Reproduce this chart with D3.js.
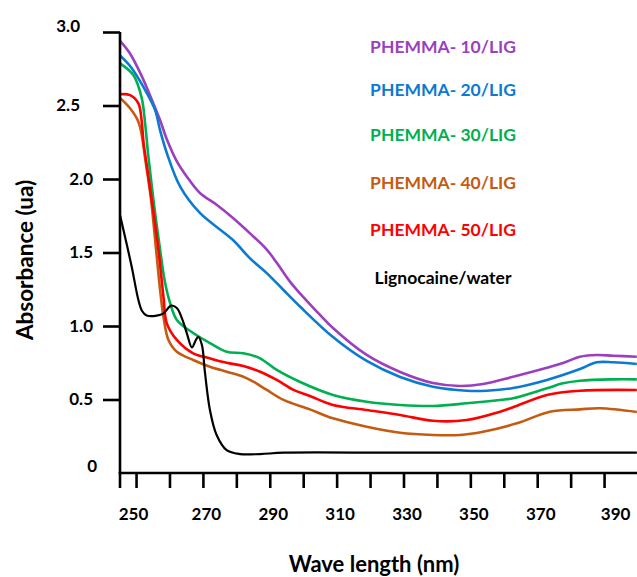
<!DOCTYPE html>
<html>
<head>
<meta charset="utf-8">
<script src="https://cdn.jsdelivr.net/npm/d3@7"></script>
<style>
  body { margin: 0; background: #fff; }
  text { font-family: Lato, "Open Sans", sans-serif; font-weight: 700; }
</style>
</head>
<body>
<svg id="chart" width="637" height="577"></svg>
<script>
// UV-Vis absorbance spectra: wavelength (nm) vs absorbance (ua)

const seriesNames = ["PHEMMA- 10/LIG", "PHEMMA- 20/LIG", "PHEMMA- 30/LIG",
                     "PHEMMA- 40/LIG", "PHEMMA- 50/LIG", "Lignocaine/water"];

const wl10  = [245.2, 248.0, 251.7, 254.7, 257.2, 259.2, 262.2, 265.2, 269.1, 274.1, 279.0, 284.1, 289.1, 292.1, 296.1, 299.1, 304.0, 308.9, 319.0, 329.0, 338.8, 346.9, 353.8, 362.8, 372.9, 377.7, 382.8, 387.8, 392.7, 399.8];
const abs10 = [2.94, 2.86, 2.70, 2.54, 2.40, 2.27, 2.12, 2.016, 1.905, 1.825, 1.735, 1.63, 1.52, 1.43, 1.30, 1.22, 1.10, 0.986, 0.803, 0.687, 0.612, 0.592, 0.605, 0.655, 0.716, 0.748, 0.791, 0.803, 0.798, 0.791];

const wl20  = [245.2, 248.5, 252.2, 255.7, 257.2, 259.2, 263.2, 269.1, 279.0, 284.1, 289.1, 294.1, 299.1, 308.9, 319.0, 329.0, 338.8, 348.9, 354.9, 362.8, 372.9, 382.8, 387.8, 392.7, 399.8];
const abs20 = [2.84, 2.76, 2.626, 2.469, 2.33, 2.177, 1.948, 1.769, 1.585, 1.46, 1.36, 1.245, 1.131, 0.925, 0.762, 0.653, 0.587, 0.56, 0.56, 0.578, 0.633, 0.707, 0.753, 0.753, 0.741];

const wl30  = [245.2, 249.2, 251.7, 252.7, 253.7, 255.2, 257.2, 258.7, 260.2, 262.2, 267.1, 272.1, 277.1, 282.1, 287.1, 292.1, 299.1, 308.9, 319.0, 329.0, 338.8, 348.9, 358.9, 362.8, 372.9, 377.7, 382.8, 392.7, 399.8];
const abs30 = [2.787, 2.707, 2.55, 2.38, 2.15, 1.857, 1.517, 1.293, 1.156, 1.041, 0.952, 0.884, 0.825, 0.814, 0.78, 0.701, 0.619, 0.531, 0.485, 0.463, 0.456, 0.474, 0.497, 0.508, 0.576, 0.61, 0.628, 0.637, 0.637];

const wl40  = [245.2, 248.2, 250.7, 251.7, 252.7, 254.5, 256.0, 257.2, 258.2, 259.7, 262.2, 267.1, 272.1, 277.1, 282.1, 285.1, 289.1, 294.1, 302.0, 308.9, 319.0, 329.0, 338.8, 346.9, 353.8, 363.9, 373.8, 382.8, 388.8, 399.8];
const abs40 = [2.551, 2.481, 2.39, 2.30, 2.143, 1.857, 1.517, 1.245, 1.063, 0.905, 0.825, 0.769, 0.723, 0.689, 0.655, 0.621, 0.565, 0.497, 0.433, 0.372, 0.315, 0.274, 0.259, 0.259, 0.281, 0.338, 0.417, 0.433, 0.44, 0.415];

const wl50  = [245.2, 248.2, 250.7, 251.7, 252.2, 253.2, 254.7, 256.7, 258.2, 259.2, 262.2, 267.1, 272.1, 277.1, 282.1, 287.1, 292.1, 297.1, 302.0, 308.9, 319.0, 329.0, 338.8, 348.9, 358.9, 362.8, 372.9, 382.8, 399.8];
const abs50 = [2.576, 2.571, 2.515, 2.39, 2.254, 2.095, 1.857, 1.517, 1.199, 1.018, 0.905, 0.814, 0.78, 0.75, 0.728, 0.689, 0.633, 0.565, 0.524, 0.463, 0.429, 0.395, 0.355, 0.36, 0.417, 0.447, 0.531, 0.56, 0.565];

const wlLig  = [245.2, 246.7, 248.7, 250.7, 251.8, 253.2, 256.2, 258.2, 260.5, 262.2, 263.7, 265.2, 266.7, 267.9, 268.6, 269.7, 270.6, 272.1, 274.1, 277.1, 281.1, 287.1, 294.1, 329.0, 399.8];
const absLig = [1.755, 1.607, 1.403, 1.177, 1.102, 1.071, 1.071, 1.086, 1.139, 1.122, 1.054, 0.95, 0.854, 0.905, 0.927, 0.871, 0.687, 0.429, 0.259, 0.156, 0.129, 0.129, 0.138, 0.138, 0.138];

const yTicks = [0, 0.5, 1.0, 1.5, 2.0, 2.5, 3.0];
const xTicks = [250, 260, 270, 280, 290, 300, 310, 320, 330, 340, 350, 360, 370, 380, 390];
const xTickLabels = [250, 270, 290, 310, 330, 350, 370, 390];

const seriesColors = ["#9b3fbf", "#0a7bd0", "#00b050", "#c55a11", "#ff0000", "#000000"];

const series = [
  { name: seriesNames[0], wl: wl10,  abs: abs10 },
  { name: seriesNames[1], wl: wl20,  abs: abs20 },
  { name: seriesNames[2], wl: wl30,  abs: abs30 },
  { name: seriesNames[3], wl: wl40,  abs: abs40 },
  { name: seriesNames[4], wl: wl50,  abs: abs50 },
  { name: seriesNames[5], wl: wlLig, abs: absLig }
].map((s, i) => ({ ...s, color: seriesColors[i],
                   points: s.wl.map((w, j) => [w, s.abs[j]]) }));

const svg = d3.select("#chart");
const W = 637, H = 577;
const left = 120, bottom = 473;

const x = d3.scaleLinear().domain([245.2, 400]).range([left, 637.5]);
const y = d3.scaleLinear().domain([0, 3]).range([bottom, 32]);

// plot area clip
svg.append("defs").append("clipPath").attr("id", "plot")
  .append("rect").attr("x", left).attr("y", 0).attr("width", W - left).attr("height", bottom);

// curves
const line = d3.line()
  .x(d => x(d[0])).y(d => y(d[1]))
  .curve(d3.curveCatmullRom.alpha(0.5));

svg.append("g").attr("clip-path", "url(#plot)")
  .selectAll("path").data(series).join("path")
  .attr("d", d => line(d.points))
  .attr("fill", "none")
  .attr("stroke", d => d.color)
  .attr("stroke-width", (d, i) => i === 5 ? 2.2 : 2.6)
  .attr("stroke-linejoin", "round");

// y axis
const yAxis = d3.axisLeft(y)
  .tickValues(yTicks)
  .tickSize(17)
  .tickPadding(10)
  .tickFormat(d => d === 0 ? "0" : d3.format(".1f")(d));

const gy = svg.append("g").attr("transform", `translate(${left},0)`).call(yAxis);
gy.select(".domain").remove();
gy.selectAll(".tick line").attr("stroke", "#000").attr("stroke-width", 2.6)
  .attr("display", d => d === 0 ? "none" : null);
gy.selectAll(".tick text")
  .attr("fill", "#000").style("font-size", "17px")
  .attr("dx", d => d >= 2.5 ? -13 : (d === 0 ? 4 : 0))
  .attr("dy", d => d === 3 ? "-0.05em" : (d === 0 ? "-0.1em" : "0.32em"));

// x axis
const xAxis = d3.axisBottom(x)
  .tickValues(xTicks)
  .tickSize(15)
  .tickPadding(20)
  .tickFormat(d => xTickLabels.includes(d) ? String(d) : "");

const gx = svg.append("g").attr("transform", `translate(0,${bottom})`).call(xAxis);
gx.select(".domain").remove();
gx.selectAll(".tick line").attr("stroke", "#000").attr("stroke-width", 2.6);
gx.selectAll(".tick text")
  .attr("fill", "#000").style("font-size", "17px")
  .attr("dx", d => d === 250 ? -3 : (d === 390 ? 11 : 3));

// axis lines
svg.append("line").attr("x1", left).attr("x2", left)
  .attr("y1", y(3)).attr("y2", bottom + 15)
  .attr("stroke", "#000").attr("stroke-width", 2.6);
svg.append("line").attr("x1", left - 1.3).attr("x2", W)
  .attr("y1", bottom).attr("y2", bottom)
  .attr("stroke", "#000").attr("stroke-width", 2.6);

// axis titles
svg.append("text")
  .attr("x", 374).attr("y", 572)
  .attr("text-anchor", "middle")
  .style("font-size", "22px")
  .text("Wave length (nm)");

svg.append("text")
  .attr("transform", "translate(33,260) rotate(-90)")
  .attr("text-anchor", "middle")
  .style("font-size", "22.5px")
  .text("Absorbance (ua)");

// legend
const legendY = [47, 90, 135, 183, 230, 278];
svg.append("g").selectAll("text").data(series).join("text")
  .attr("x", 443)
  .attr("y", (d, i) => legendY[i])
  .attr("dy", "0.35em")
  .attr("text-anchor", "middle")
  .attr("fill", d => d.color)
  .style("font-size", "17.5px")
  .text(d => d.name);
</script>
</body>
</html>
